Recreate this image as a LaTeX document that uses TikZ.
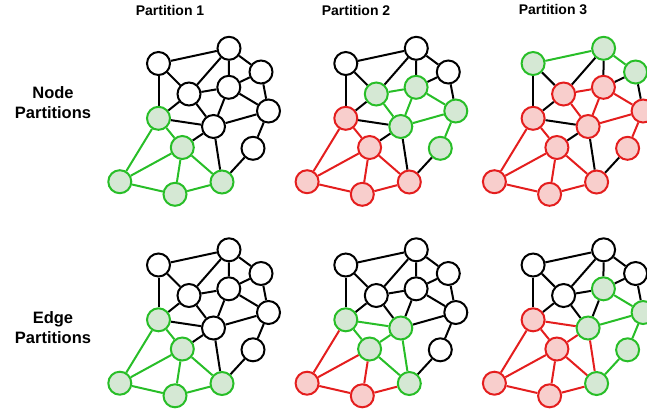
\documentclass[tikz,border=0pt]{standalone}
\usepackage{fontspec}
\setmainfont{Liberation Sans}
\usetikzlibrary{backgrounds}
\definecolor{gstroke}{RGB}{40,190,40}
\definecolor{gfill}{RGB}{213,232,212}
\definecolor{rstroke}{RGB}{228,30,30}
\definecolor{rfill}{RGB}{248,206,204}
\tikzset{
  wn/.style={circle, minimum size=23pt, inner sep=0pt, line width=2pt, draw=black, fill=white},
  gn/.style={draw=gstroke, fill=gfill},
  rn/.style={draw=rstroke, fill=rfill},
  ed/.style={line width=2pt, draw=black},
  ge/.style={draw=gstroke},
  re/.style={draw=rstroke},
  title/.style={font=\fontsize{14}{16}\selectfont\bfseries},
  rowlab/.style={font=\fontsize{16.5}{20}\selectfont\bfseries, align=center},
  % top / bottom partition 1
  pa1G/.style=gn, pa1J/.style=gn, pa1K/.style=gn, pa1L/.style=gn, pa1M/.style=gn,
  pa1GJ/.style=ge, pa1GK/.style=ge, pa1JK/.style=ge, pa1JL/.style=ge, pa1JM/.style=ge, pa1KL/.style=ge, pa1LM/.style=ge,
  % top partition 2
  tb2D/.style=gn, tb2E/.style=gn, tb2F/.style=gn, tb2H/.style=gn, tb2I/.style=gn,
  tb2G/.style=rn, tb2J/.style=rn, tb2K/.style=rn, tb2L/.style=rn, tb2M/.style=rn,
  tb2DE/.style=ge, tb2DH/.style=ge, tb2EH/.style=ge, tb2EF/.style=ge, tb2FH/.style=ge, tb2FI/.style=ge,
  tb2GJ/.style=re, tb2GK/.style=re, tb2JK/.style=re, tb2JL/.style=re, tb2JM/.style=re, tb2KL/.style=re, tb2LM/.style=re,
  % top partition 3
  tc3A/.style=gn, tc3B/.style=gn, tc3C/.style=gn,
  tc3D/.style=rn, tc3E/.style=rn, tc3F/.style=rn, tc3G/.style=rn, tc3H/.style=rn,
  tc3I/.style=rn, tc3J/.style=rn, tc3K/.style=rn, tc3L/.style=rn, tc3M/.style=rn,
  tc3AB/.style=ge, tc3BC/.style=ge,
  tc3DE/.style=re, tc3DH/.style=re, tc3EH/.style=re, tc3EF/.style=re, tc3FH/.style=re, tc3FI/.style=re,
  tc3GJ/.style=re, tc3GK/.style=re, tc3JK/.style=re, tc3JL/.style=re, tc3JM/.style=re, tc3KL/.style=re, tc3LM/.style=re,
  % bottom partition 2
  bb2G/.style=gn, bb2H/.style=gn, bb2J/.style=gn, bb2M/.style=gn,
  bb2K/.style=rn, bb2L/.style=rn,
  bb2GH/.style=ge, bb2GJ/.style=ge, bb2HJ/.style=ge, bb2HM/.style=ge, bb2JM/.style=ge,
  bb2GK/.style=re, bb2JK/.style=re, bb2KL/.style=re, bb2JL/.style=re, bb2LM/.style=re,
  % bottom partition 3
  bc3E/.style=gn, bc3F/.style=gn, bc3H/.style=gn, bc3I/.style=gn, bc3M/.style=gn,
  bc3G/.style=rn, bc3J/.style=rn, bc3K/.style=rn, bc3L/.style=rn,
  bc3EF/.style=ge, bc3FH/.style=ge, bc3FI/.style=ge, bc3IM/.style=ge,
  bc3GH/.style=re, bc3GJ/.style=re, bc3GK/.style=re, bc3HJ/.style=re, bc3HM/.style=re,
  bc3JK/.style=re, bc3JL/.style=re, bc3JM/.style=re, bc3KL/.style=re, bc3LM/.style=re,
}
% #1 node-name prefix, #2 style prefix, #3 dx, #4 dy
\newcommand\graphpanel[4]{%
  \foreach \n/\x/\y in {A/158.5/63.5, B/229/48.3, C/261/72, D/189/94, E/228.8/87.3,
      F/268.5/111, G/158.5/118.3, H/213.5/126.5, I/253/148.3, J/182.3/147.5,
      K/119.8/181.7, L/175/194.3, M/222/182}
    \node[wn, #2\n/.try] (#1\n) at ({\x+#3},{\y+#4}) {};
  \begin{scope}[on background layer]
  \foreach \a/\b in {A/B, A/D, A/G, B/C, B/D, B/E, C/E, C/F, D/E, D/G, D/H, E/F, E/H,
      F/H, F/I, G/H, G/J, G/K, H/J, H/M, I/M, J/K, J/L, J/M, K/L, L/M}
    \draw[ed, #2\a\b/.try] (#1\a) -- (#1\b);
  \end{scope}
}
\begin{document}
\begin{tikzpicture}[x=1pt, y=-1pt]
\useasboundingbox (0,0) rectangle (647,416);
\clip (0,0) rectangle (647,416);
\node[title] (t1) at (170,10) {Partition 1};
\node[title] (t2) at (356,10) {Partition 2};
\node[title] (t3) at (553,10) {Partition 3};
\node[rowlab] (r1) at (53,103) {Node\\Partitions};
\node[rowlab] (r2) at (53,328) {Edge\\Partitions};
\graphpanel{ta}{pa1}{0}{0}
\graphpanel{tb}{tb2}{187.3}{0}
\graphpanel{tc}{tc3}{374.6}{0}
\graphpanel{ba}{pa1}{0}{201.5}
\graphpanel{bb}{bb2}{187.3}{201.5}
\graphpanel{bc}{bc3}{374.6}{201.5}
\end{tikzpicture}
\end{document}
